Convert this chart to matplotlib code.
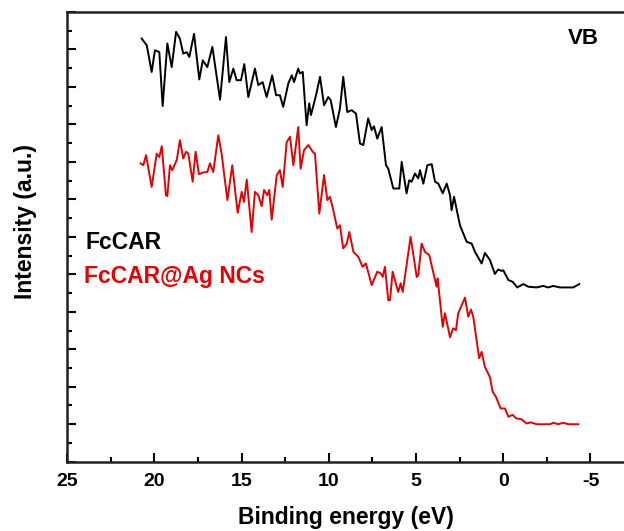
import matplotlib
matplotlib.use("Agg")
import matplotlib.pyplot as plt
from matplotlib.ticker import MultipleLocator, NullFormatter

plt.rcParams["font.family"] = ["Liberation Sans", "DejaVu Sans"]
plt.rcParams["font.weight"] = "bold"
plt.rcParams["axes.unicode_minus"] = False

# valence band spectra (binding energy in eV, offset intensity in a.u.)
fccar_be = [20.72, 20.43, 20.15, 19.96, 19.71, 19.52, 19.25, 19.00, 18.75, 18.53,
            18.34, 18.14, 17.99, 17.72, 17.42, 17.22, 16.96, 16.67, 16.23, 15.89,
            15.70, 15.47, 15.28, 15.03, 14.84, 14.61, 14.23, 14.04, 13.79, 13.56,
            13.24, 13.02, 12.80, 12.61, 12.32, 12.12, 11.99, 11.75, 11.65, 11.49,
            11.27, 11.12, 11.02, 10.73, 10.50, 10.27, 10.03, 9.89, 9.59, 9.36,
            9.17, 8.94, 8.69, 8.44, 8.21, 8.02, 7.74, 7.54, 7.41, 7.22,
            6.97, 6.72, 6.59, 6.30, 5.96, 5.82, 5.54, 5.39, 5.25, 5.06,
            4.87, 4.77, 4.58, 4.35, 4.10, 3.91, 3.72, 3.47, 3.24, 3.05,
            2.96, 2.82, 2.58, 2.48, 2.10, 1.81, 1.62, 1.24, 1.05, 0.76,
            0.48, 0.29, 0.09, 0.00, -0.29, -0.54, -0.80, -1.15, -1.43, -1.91,
            -2.29, -2.58, -2.87, -3.25, -4.01, -4.36]
fccar_int = [11.29, 11.11, 10.40, 10.98, 10.93, 9.49, 11.16, 10.53, 11.47, 11.29,
             10.89, 10.93, 10.80, 11.42, 10.20, 10.71, 10.53, 11.07, 9.66, 11.33,
             10.13, 10.49, 10.18, 10.18, 10.61, 9.73, 10.49, 10.05, 10.13, 9.73,
             10.31, 9.78, 9.78, 9.47, 10.09, 10.31, 10.13, 10.49, 10.36, 10.40,
             8.98, 9.56, 9.25, 9.78, 10.27, 9.51, 9.73, 9.65, 8.93, 9.42,
             10.27, 9.33, 9.38, 9.29, 8.49, 8.45, 9.16, 8.85, 8.95, 8.62,
             8.93, 7.91, 7.82, 7.29, 7.29, 8.00, 7.16, 7.51, 7.47, 7.69,
             7.56, 7.78, 7.42, 7.91, 7.94, 7.47, 7.42, 7.16, 7.42, 7.11,
             6.71, 7.07, 6.53, 6.31, 5.87, 5.82, 5.60, 5.29, 5.57, 5.38,
             5.01, 5.13, 5.09, 5.11, 4.85, 4.80, 4.65, 4.74, 4.67, 4.65,
             4.69, 4.65, 4.69, 4.65, 4.65, 4.74]

ag_be = [20.78, 20.63, 20.47, 20.15, 19.86, 19.71, 19.57, 19.33, 19.25, 19.10,
         18.97, 18.71, 18.53, 18.34, 18.18, 18.05, 17.80, 17.63, 17.44, 17.19,
         16.96, 16.81, 16.62, 16.33, 16.14, 15.81, 15.53, 15.22, 14.99, 14.86,
         14.70, 14.42, 14.23, 14.04, 13.84, 13.71, 13.52, 13.41, 13.27, 12.98,
         12.80, 12.64, 12.41, 12.22, 12.03, 11.75, 11.61, 11.42, 11.17, 10.92,
         10.79, 10.54, 10.27, 10.08, 9.93, 9.74, 9.51, 9.36, 9.17, 8.97,
         8.82, 8.59, 8.31, 8.06, 7.87, 7.54, 7.22, 7.02, 6.91, 6.78,
         6.59, 6.49, 6.34, 6.02, 5.88, 5.76, 5.31, 4.96, 4.87, 4.68,
         4.49, 4.24, 3.82, 3.76, 3.47, 3.34, 3.05, 2.87, 2.71, 2.58,
         2.19, 2.01, 1.85, 1.72, 1.38, 1.24, 1.05, 0.76, 0.61, 0.42,
         0.15, -0.10, -0.29, -0.54, -0.73, -1.05, -1.34, -1.57, -1.91, -2.68,
         -2.87, -3.15, -3.44, -3.72, -4.30]
ag_int = [7.96, 7.91, 8.18, 7.33, 8.22, 8.13, 8.42, 7.11, 7.09, 7.91,
          7.78, 8.05, 8.58, 8.09, 8.27, 8.22, 7.47, 8.27, 7.67, 7.72,
          7.73, 7.96, 7.73, 8.71, 8.22, 6.98, 7.91, 6.64, 7.20, 6.93,
          7.53, 6.13, 7.20, 7.11, 6.82, 7.25, 7.11, 7.25, 6.46, 7.65,
          7.78, 7.33, 8.53, 8.67, 7.91, 8.93, 7.82, 8.31, 8.45, 8.27,
          8.22, 6.62, 7.65, 6.98, 7.07, 6.71, 6.22, 6.31, 5.69, 5.82,
          6.13, 5.60, 5.47, 5.20, 5.29, 4.71, 5.07, 5.02, 4.93, 5.20,
          4.31, 4.31, 5.07, 4.53, 4.76, 4.53, 6.00, 4.93, 4.98, 5.82,
          5.60, 5.51, 4.67, 4.89, 3.60, 3.96, 3.32, 3.56, 3.51, 3.96,
          4.38, 3.87, 4.06, 3.87, 2.76, 2.93, 2.53, 2.25, 1.87, 1.73,
          1.42, 1.42, 1.20, 1.25, 1.16, 1.13, 1.02, 1.05, 1.00, 1.00,
          1.04, 1.00, 1.04, 1.00, 1.00]

red = "#e60000"

fig = plt.figure(figsize=(6.24, 5.31), dpi=100)
ax = fig.add_axes([0.1074, 0.1305, 0.8926, 0.8469])

ax.plot(fccar_be, fccar_int, color="black", lw=1.4)
ax.plot(ag_be, ag_int, color=red, lw=1.4)

ax.set_xlim(25, -6.92)
ax.set_ylim(0, 12)

ax.xaxis.set_major_locator(MultipleLocator(5))
ax.xaxis.set_minor_locator(MultipleLocator(2.5))
ax.yaxis.set_major_locator(MultipleLocator(1))
ax.yaxis.set_minor_locator(MultipleLocator(0.5))
ax.yaxis.set_major_formatter(NullFormatter())

ax.tick_params(which="both", direction="in", top=False, right=False, width=1.5)
ax.tick_params(which="major", length=6.5, labelsize=14, pad=8)
ax.tick_params(which="minor", length=3.5)

for s in ["left", "bottom", "top"]:
    ax.spines[s].set_linewidth(1.8)
    ax.spines[s].set_color("#222222")
ax.spines["right"].set_visible(False)

ax.set_xlabel("Binding energy (eV)", fontsize=16.5, fontweight="bold")
ax.set_ylabel("Intensity (a.u.)", fontsize=16.5, fontweight="bold")
ax.xaxis.set_label_coords(0.5, -0.098)
ax.yaxis.set_label_coords(-0.054, 0.534)

ax.text(-4.6, 11.3, "VB", fontsize=16, fontweight="bold", ha="center", va="center")
ax.text(23.95, 5.85, "FcCAR", fontsize=16.5, fontweight="bold", va="center")
ax.text(24.0, 4.95, "FcCAR@Ag NCs", fontsize=16.5, fontweight="bold", color=red, va="center")

fig.savefig("out.png", dpi=100)
